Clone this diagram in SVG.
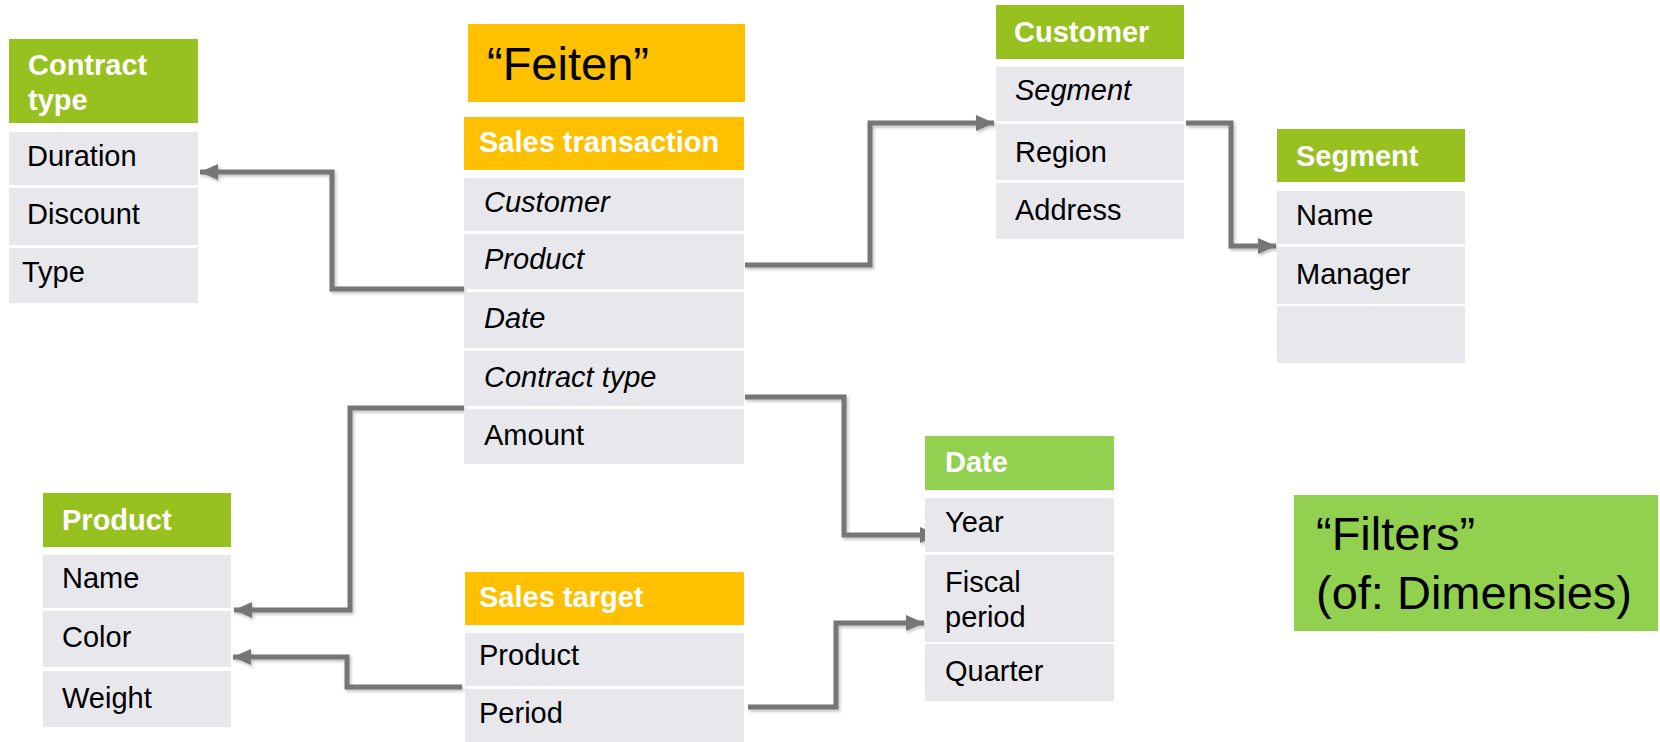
<svg xmlns="http://www.w3.org/2000/svg" width="1660" height="742" viewBox="0 0 1660 742">
<style>
text{font-family:"Liberation Sans",Arial,sans-serif;}
.hg{fill:#97C11F;}
.hd{fill:#92D050;}
.ho{fill:#FFC000;}
.row{fill:#E7E7EC;}
.ht{fill:#fff;font-weight:bold;font-size:29px;}
.rt{fill:#000;font-size:29px;}
.it{font-style:italic;}
.big{fill:#000;font-size:47px;}
.conn{fill:none;stroke:#767676;stroke-width:5;stroke-linejoin:miter;}
</style>
<defs>
<marker id="ah" markerUnits="userSpaceOnUse" markerWidth="24" markerHeight="24" refX="20" refY="12" orient="auto">
<path d="M2,4 L20,12 L2,20 Z" fill="#767676"/>
</marker>
<filter id="sh" x="-5%" y="-5%" width="110%" height="110%">
<feDropShadow dx="1.5" dy="2" stdDeviation="1.5" flood-color="#000" flood-opacity="0.25"/>
</filter>
</defs>

<g id="connectors" filter="url(#sh)">
<path class="conn" d="M464,289 H332 V172 H200" marker-end="url(#ah)"/>
<path class="conn" d="M745,265 H870 V123 H994" marker-end="url(#ah)"/>
<path class="conn" d="M1186,123 H1231 V246 H1276" marker-end="url(#ah)"/>
<path class="conn" d="M745,397 H844 V535 H938" marker-end="url(#ah)"/>
<path class="conn" d="M464,408 H350 V610 H234" marker-end="url(#ah)"/>
<path class="conn" d="M462,687 H347 V657 H233" marker-end="url(#ah)"/>
<path class="conn" d="M748,707 H836 V623 H924" marker-end="url(#ah)"/>
</g>

<g id="feiten">
<rect x="468" y="24" width="277" height="78" class="ho"/>
<text x="487" y="80" class="big">“Feiten”</text>
</g>

<g id="filters">
<rect x="1294" y="495" width="364" height="136" class="hd"/>
<text x="1316" y="550" class="big" font-size="46">“Filters”</text>
<text x="1316" y="609" class="big" font-size="46">(of: Dimensies)</text>
</g>

<g id="contract-type">
<rect x="9" y="39" width="189" height="84" class="hg"/>
<text x="28" y="75" class="ht">Contract</text>
<text x="28" y="110" class="ht">type</text>
<rect x="9" y="132" width="189" height="53" class="row"/>
<text x="27" y="166" class="rt">Duration</text>
<rect x="9" y="188" width="189" height="57" class="row"/>
<text x="27" y="224" class="rt">Discount</text>
<rect x="9" y="248" width="189" height="55" class="row"/>
<text x="22" y="282" class="rt">Type</text>
</g>

<g id="sales-transaction">
<rect x="464" y="117" width="280" height="53" class="ho"/>
<text x="479" y="152" class="ht" font-size="30">Sales transaction</text>
<rect x="464" y="178" width="280" height="53" class="row"/>
<text x="484" y="212" class="rt it">Customer</text>
<rect x="464" y="234" width="280" height="55" class="row"/>
<text x="484" y="269" class="rt it">Product</text>
<rect x="464" y="292" width="280" height="56" class="row"/>
<text x="484" y="328" class="rt it">Date</text>
<rect x="464" y="351" width="280" height="55" class="row"/>
<text x="484" y="387" class="rt it">Contract type</text>
<rect x="464" y="409" width="280" height="55" class="row"/>
<text x="484" y="445" class="rt">Amount</text>
</g>

<g id="customer">
<rect x="996" y="5" width="188" height="54" class="hg"/>
<text x="1014" y="42" class="ht">Customer</text>
<rect x="996" y="67" width="188" height="54" class="row"/>
<text x="1015" y="100" class="rt it">Segment</text>
<rect x="996" y="124" width="188" height="56" class="row"/>
<text x="1015" y="162" class="rt">Region</text>
<rect x="996" y="183" width="188" height="56" class="row"/>
<text x="1015" y="220" class="rt">Address</text>
</g>

<g id="segment">
<rect x="1277" y="129" width="188" height="53" class="hg"/>
<text x="1296" y="166" class="ht">Segment</text>
<rect x="1277" y="191" width="188" height="53" class="row"/>
<text x="1296" y="225" class="rt">Name</text>
<rect x="1277" y="247" width="188" height="57" class="row"/>
<text x="1296" y="284" class="rt">Manager</text>
<rect x="1277" y="306" width="188" height="57" class="row"/>
</g>

<g id="product">
<rect x="43" y="493" width="188" height="54" class="hg"/>
<text x="62" y="530" class="ht">Product</text>
<rect x="43" y="555" width="188" height="53" class="row"/>
<text x="62" y="588" class="rt">Name</text>
<rect x="43" y="611" width="188" height="56" class="row"/>
<text x="62" y="647" class="rt">Color</text>
<rect x="43" y="671" width="188" height="56" class="row"/>
<text x="62" y="708" class="rt">Weight</text>
</g>

<g id="sales-target">
<rect x="465" y="572" width="279" height="53" class="ho"/>
<text x="479" y="607" class="ht">Sales target</text>
<rect x="465" y="633" width="279" height="53" class="row"/>
<text x="479" y="665" class="rt">Product</text>
<rect x="465" y="689" width="279" height="53" class="row"/>
<text x="479" y="723" class="rt">Period</text>
</g>

<g id="date">
<rect x="925" y="436" width="189" height="54" class="hd"/>
<text x="945" y="472" class="ht">Date</text>
<rect x="925" y="498" width="189" height="54" class="row"/>
<text x="945" y="532" class="rt">Year</text>
<rect x="925" y="555" width="189" height="87" class="row"/>
<text x="945" y="592" class="rt">Fiscal</text>
<text x="945" y="627" class="rt">period</text>
<rect x="925" y="644" width="189" height="57" class="row"/>
<text x="945" y="681" class="rt">Quarter</text>
</g>
</svg>
